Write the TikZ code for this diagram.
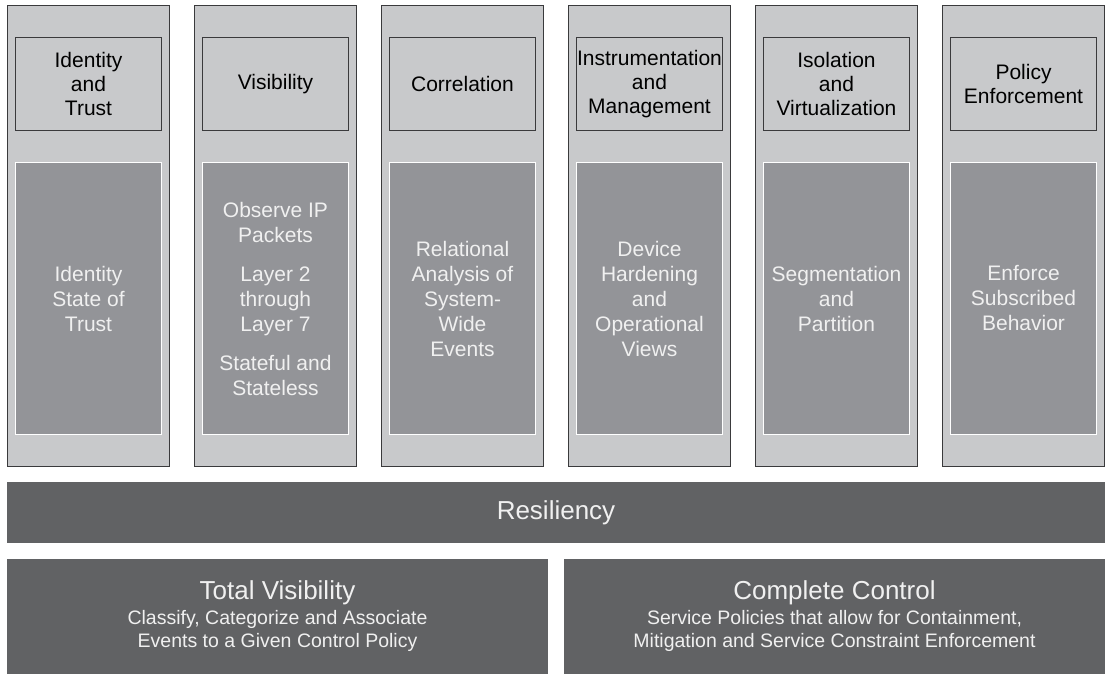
\documentclass[tikz,border=0pt]{standalone}
\usepackage{fontspec}
\setmainfont{Liberation Sans}
\usetikzlibrary{positioning}
\definecolor{pillar}{HTML}{C8C9CB}
\definecolor{core}{HTML}{939498}
\definecolor{slate}{HTML}{616264}
\definecolor{edge}{HTML}{3A3A3C}

\begin{document}
\begin{tikzpicture}[x=1pt, y=-1pt,
  col/.style={draw=edge, line width=1.3pt, fill=pillar, minimum width=162pt, minimum height=461pt, inner sep=0pt},
  head/.style={draw=edge, line width=1pt, fill=pillar, minimum width=146pt, minimum height=93pt, inner sep=0pt, align=center, font=\fontsize{21}{24}\selectfont},
  core/.style={draw=white, line width=1.2pt, fill=core, text=white!94!black, minimum width=146pt, minimum height=272pt, inner sep=0pt, align=center, font=\fontsize{21}{25}\selectfont},
  bar/.style={fill=slate, text=white!94!black, inner sep=0pt, align=center, font=\fontsize{19.5}{23}\selectfont}
]
  \useasboundingbox (0,0) rectangle (1108,674);

  % pillars
  \node[col] (idcol)  at (88.5,236) {};
  \node[col] (viscol) at (275.5,236) {};
  \node[col] (corcol) at (462.5,236) {};
  \node[col] (inscol) at (649.5,236) {};
  \node[col] (isocol) at (836.5,236) {};
  \node[col] (polcol) at (1023.5,236) {};

  \node[head] (idhead)  at (88.5,84) {Identity\\and\\Trust};
  \node[head] (vishead) at (275.5,84) {Visibility};
  \node[head] (corhead) at (462.5,84) {Correlation};
  \node[head] (inshead) at (649.5,84) {Instrumentation\\and\\Management};
  \node[head] (isohead) at (836.5,84) {Isolation\\and\\Virtualization};
  \node[head] (polhead) at (1023.5,84) {Policy\\Enforcement};

  \node[core] (idbody)  at (88.5,298.5) {Identity\\State of\\Trust};
  \node[core] (visbody) at (275.5,298.5) {Observe IP\\Packets\\[14pt]Layer 2\\through\\Layer 7\\[14pt]Stateful and\\Stateless};
  \node[core] (corbody) at (462.5,298.5) {Relational\\Analysis of\\System-\\Wide\\Events};
  \node[core] (insbody) at (649.5,298.5) {Device\\Hardening\\and\\Operational\\Views};
  \node[core] (isobody) at (836.5,298.5) {Segmentation\\and\\Partition};
  \node[core] (polbody) at (1023.5,298.5) {Enforce\\Subscribed\\Behavior};

  % foundation
  \node[bar, minimum width=1098pt, minimum height=61pt, font=\fontsize{26}{28}\selectfont] (res) at (556,512.5) {Resiliency};
  \node[bar, minimum width=541pt, minimum height=115pt] (total) at (277.5,616.5)
    {{\fontsize{26}{28}\selectfont Total Visibility}\\[2pt]Classify, Categorize and Associate\\Events to a Given Control Policy};
  \node[bar, minimum width=541pt, minimum height=115pt] (ctrl) at (834.5,616.5)
    {{\fontsize{26}{28}\selectfont Complete Control}\\[2pt]Service Policies that allow for Containment,\\Mitigation and Service Constraint Enforcement};
\end{tikzpicture}
\end{document}
